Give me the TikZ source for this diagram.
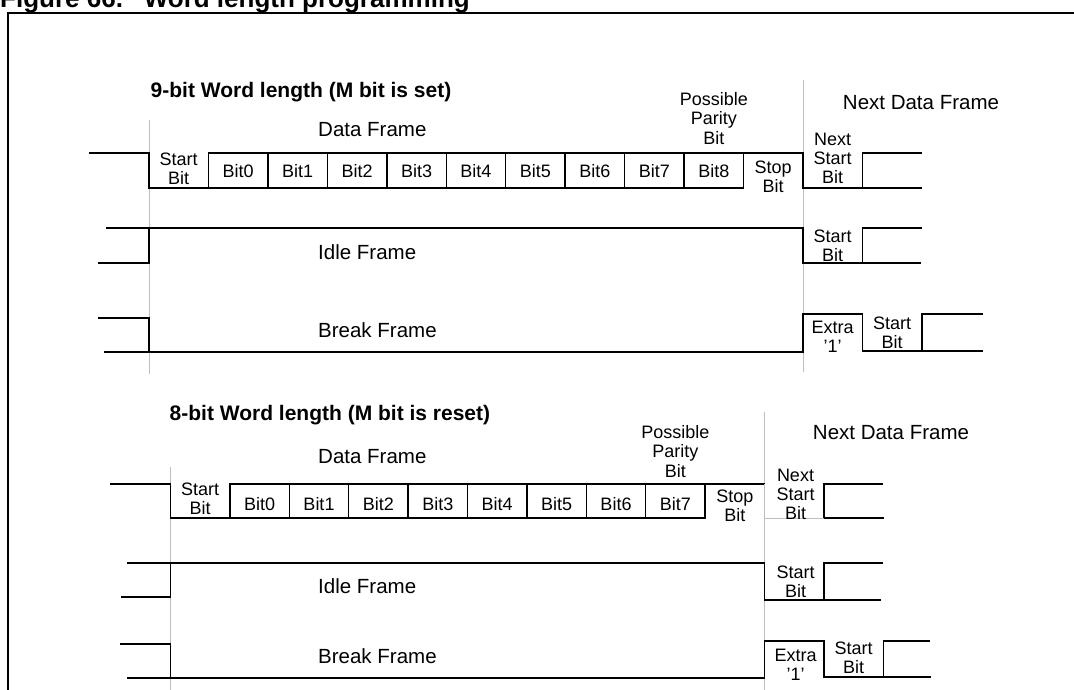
\documentclass[tikz,border=0pt]{standalone}
\usepackage{fontspec}
\setmainfont{Liberation Sans}
\usepackage{xcolor}
\usepackage{tikz}
\usetikzlibrary{positioning}
\definecolor{guidegray}{HTML}{BEBEBE}

\newcommand{\cellfont}{\fontsize{18}{19}\selectfont}
\newcommand{\framefont}{\fontsize{20.5}{22}\selectfont}
\newcommand{\headfont}{\fontsize{21}{24}\bfseries\selectfont}

\tikzset{
  wave/.style={line width=1.4pt, line join=miter},
  guide/.style={draw=guidegray, line width=1pt},
  cell/.style={font=\cellfont, inner sep=0pt, align=center},
  framelabel/.style={font=\framefont, inner sep=0pt, anchor=west},
  heading/.style={font=\headfont, inner sep=0pt, anchor=base west},
}

\begin{document}
\begin{tikzpicture}[x=1pt, y=-1pt]
  \useasboundingbox (0,0) rectangle (1074,689);
  % caption, cut off by the top edge
  \begin{scope}
    \clip (0,0) rectangle (1074,689);
    \node[font=\fontsize{26}{28}\bfseries\selectfont, inner sep=0pt, anchor=base west]
      (caption) at (0,7) {Figure 66.\hspace{0.8em}Word length programming};
  \end{scope}
  \draw[line width=2pt] (7.6,700) -- (7.6,13) -- (1080,13);

  %% 9-bit word
  \node[heading] (head9) at (150.5,97.5) {9-bit Word length (M bit is set)};
  \draw[guide] (149,120) -- (149,374);
  \draw[guide] (803,80) -- (803,372);

  % data frame
  \draw[wave] (89,153) -- (149,153) -- (149,188) -- (743.5,188) -- (743.5,153);
  \draw[wave] (208.45,188) -- (208.45,153) -- (803,153) -- (803,188)
    -- (862.4,188) -- (862.4,153) -- (922,153);
  \draw[wave] (862.4,188) -- (922,188);
  \foreach \i in {2,...,9}
    \draw[wave] ({149+\i*59.45},153) -- ++(0,35);
  \node[cell] (start9) at (178.7,169) {Start\\Bit};
  \foreach \k in {0,...,8}
    \node[cell] (bit9\k) at ({149+(\k+1.5)*59.45},171) {Bit\k};
  \node[cell] (stop9) at (773.2,176.5) {Stop\\Bit};
  \node[cell] (nstart9) at (832.7,158.5) {Next\\Start\\Bit};
  \node[cell] (parity9) at (713.8,118.5) {Possible\\Parity\\[1.5pt]Bit};
  \node[framelabel] (data9) at (318,130) {Data Frame};
  \node[font=\framefont, inner sep=0pt] (next9) at (921,103) {Next Data Frame};

  % idle frame
  \draw[wave] (98,263) -- (149,263) -- (149,228);
  \draw[wave] (106,228) -- (803,228) -- (803,263) -- (862.4,263) -- (862.4,228) -- (922,228);
  \draw[wave] (862.4,263) -- (921,263);
  \node[framelabel] (idle9) at (318,252) {Idle Frame};
  \node[cell] (istart9) at (832.7,246) {Start\\Bit};

  % break frame
  \draw[wave] (98,318) -- (149,318) -- (149,352);
  \draw[wave] (104,352) -- (803,352) -- (803,314) -- (862.4,314) -- (862.4,351)
    -- (921.85,351) -- (921.85,314) -- (983,314);
  \draw[wave] (921.85,351) -- (983,351);
  \node[framelabel] (break9) at (318,330) {Break Frame};
  \node[cell] (extra9) at (832.7,336.5) {Extra\\'1'};
  \node[cell] (bstart9) at (892.1,333) {Start\\Bit};

  %% 8-bit word
  \node[heading] (head8) at (169.5,420.5) {8-bit Word length (M bit is reset)};
  \draw[guide] (170.5,467) -- (170.5,700);
  \draw[guide] (764.5,412) -- (764.5,700);

  % data frame
  \draw[wave] (110,484) -- (170.5,484) -- (170.5,518) -- (705.1,518) -- (705.1,484);
  \draw[wave] (229.9,518) -- (229.9,484) -- (764.5,484);
  \draw[guide] (764.5,484) -- (764.5,518) -- (823.9,518);
  \draw[wave] (823.9,518) -- (823.9,484) -- (883.3,484);
  \draw[wave] (823.9,518) -- (884,518);
  \foreach \i in {2,...,8}
    \draw[wave] ({170.5+\i*59.4},484) -- ++(0,34);
  \node[cell] (start8) at (200.2,499) {Start\\Bit};
  \foreach \k in {0,...,7}
    \node[cell] (bit8\k) at ({170.5+(\k+1.5)*59.4},504) {Bit\k};
  \node[cell] (stop8) at (734.8,506) {Stop\\Bit};
  \node[cell] (nstart8) at (795.5,494) {Next\\Start\\Bit};
  \node[cell] (parity8) at (675.4,451.5) {Possible\\Parity\\[1.5pt]Bit};
  \node[framelabel] (data8) at (318,457) {Data Frame};
  \node[font=\framefont, inner sep=0pt] (next8) at (891,433) {Next Data Frame};

  % idle frame
  \draw[wave] (121,597) -- (170.5,597) -- (170.5,563);
  \draw[wave] (127,563) -- (764.5,563) -- (764.5,600) -- (823.9,600) -- (823.9,563) -- (883,563);
  \draw[wave] (823.9,600) -- (881,600);
  \node[framelabel] (idle8) at (318,586) {Idle Frame};
  \node[cell] (istart8) at (795.5,581.5) {Start\\Bit};

  % break frame
  \draw[wave] (120,644) -- (170.5,644) -- (170.5,678);
  \draw[wave] (127,678) -- (764.5,678) -- (764.5,641) -- (823.9,641) -- (823.9,677)
    -- (883.3,677) -- (883.3,641) -- (930,641);
  \draw[wave] (883.3,677) -- (931,677);
  \node[framelabel] (break8) at (318,656) {Break Frame};
  \node[cell] (extra8) at (795.5,664.5) {Extra\\'1'};
  \node[cell] (bstart8) at (853.6,658) {Start\\Bit};
\end{tikzpicture}
\end{document}
